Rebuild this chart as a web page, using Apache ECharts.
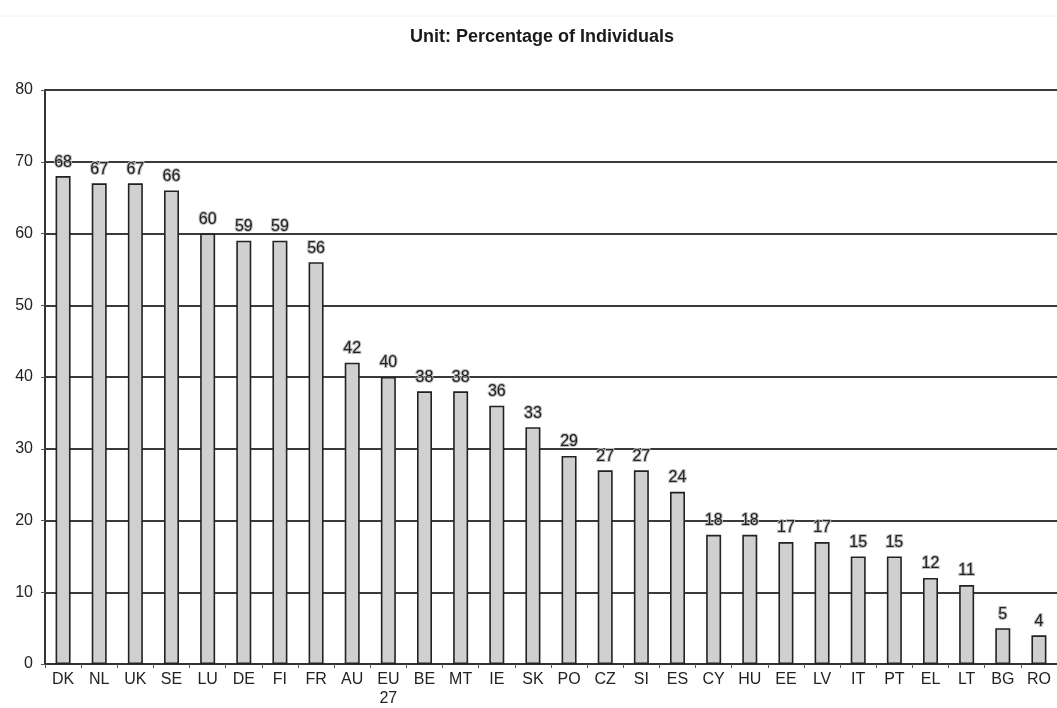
<!DOCTYPE html>
<html>
<head>
<meta charset="utf-8">
<script src="https://cdn.jsdelivr.net/npm/echarts@6/dist/echarts.min.js"></script>
<style>
  html, body { margin: 0; padding: 0; background: #ffffff; }
  #chart { width: 1057px; height: 708px; }
</style>
</head>
<body>
<div id="chart"></div>
<script>
  // countries, in the order shown
  var countries = ['DK', 'NL', 'UK', 'SE', 'LU', 'DE', 'FI', 'FR', 'AU', 'EU\n27', 'BE', 'MT', 'IE', 'SK',
    'PO', 'CZ', 'SI', 'ES', 'CY', 'HU', 'EE', 'LV', 'IT', 'PT', 'EL', 'LT', 'BG', 'RO'];
  // percentage of individuals
  var percentages = [68, 67, 67, 66, 60, 59, 59, 56, 42, 40, 38, 38, 36, 33,
    29, 27, 27, 24, 18, 18, 17, 17, 15, 15, 12, 11, 5, 4];

  var myChart = echarts.init(document.getElementById('chart'));
  var option = {
    animation: false,
    backgroundColor: '#ffffff',
    title: {
      text: 'Unit: Percentage of Individuals',
      left: 537,
      textAlign: 'center',
      top: 23,
      textStyle: {
        color: '#1a1a1a',
        fontFamily: 'Liberation Sans',
        fontSize: 18,
        fontWeight: 'bold'
      }
    },
    // faint frame line at the top of the picture
    graphic: [{
      type: 'line',
      shape: { x1: 0, y1: 16, x2: 1057, y2: 16 },
      style: { stroke: '#f0f0f0', lineWidth: 1 }
    }],
    grid: {
      left: 45,
      right: -3,
      top: 90,
      bottom: 36
    },
    xAxis: {
      type: 'category',
      data: countries,
      axisLine: { lineStyle: { color: '#333333', width: 2 } },
      axisTick: { show: true, length: 4, lineStyle: { color: '#555555' } },
      axisLabel: {
        color: '#222222',
        fontFamily: 'Liberation Sans',
        fontSize: 16,
        margin: 6,
        lineHeight: 19,
        interval: 0
      }
    },
    yAxis: {
      type: 'value',
      min: 0,
      max: 80,
      interval: 10,
      axisLine: { show: true, lineStyle: { color: '#333333', width: 2 } },
      axisTick: { show: true, length: 4, lineStyle: { color: '#555555' } },
      axisLabel: {
        color: '#222222',
        fontFamily: 'Liberation Sans',
        fontSize: 16,
        margin: 12
      },
      splitLine: { lineStyle: { color: '#3a3a3a', width: 2 } }
    },
    series: [
      {
        type: 'bar',
        data: percentages,
        barWidth: 15,
        itemStyle: {
          color: '#d0d0d0',
          borderColor: '#222222',
          borderWidth: 1.6
        },
        label: {
          show: true,
          position: 'top',
          distance: 6,
          color: '#222222',
          fontFamily: 'Liberation Sans',
          fontSize: 16,
          textBorderColor: '#bdbdbd',
          textBorderWidth: 2
        }
      }
    ]
  };
  myChart.setOption(option);
</script>
</body>
</html>
